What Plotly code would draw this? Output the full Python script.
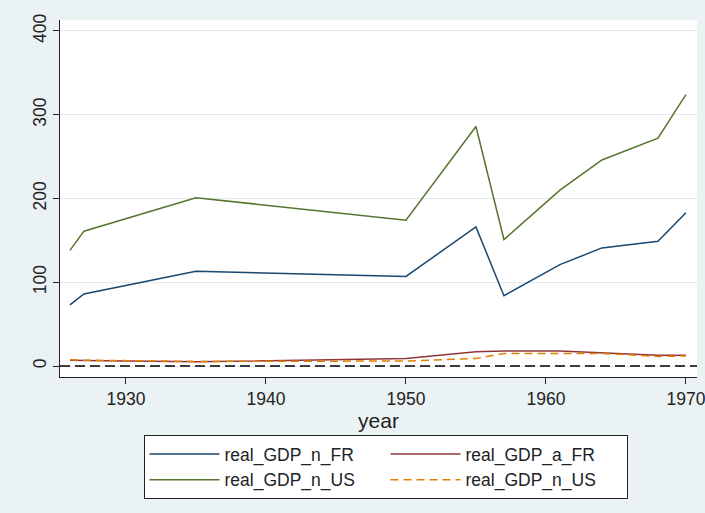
import plotly.graph_objects as go

years = [1926, 1927, 1935, 1950, 1955, 1957, 1961, 1964, 1968, 1970]
real_GDP_n_FR = [73, 86, 113, 107, 166, 84, 121, 141, 149, 183]
real_GDP_a_FR = [7, 6.5, 5, 9, 17, 18, 18, 16, 13, 13]
real_GDP_n_US = [138, 161, 201, 174, 286, 151, 210, 246, 272, 324]
real_GDP_n_US_b = [7.5, 7, 5.5, 6, 9, 15, 15, 15, 11.5, 12]

x_ticks = [1930, 1940, 1950, 1960, 1970]
y_ticks = [0, 100, 200, 300, 400]

NAVY = "#1a476f"
MAROON = "#90353b"
GREEN = "#55752f"
ORANGE = "#e37e00"
BG = "#eaf2f3"
FONT = "Liberation Sans, Arial, sans-serif"

fig = go.Figure()
fig.add_trace(go.Scatter(x=years, y=real_GDP_n_FR, mode="lines", name="real_GDP_n_FR",
                         line=dict(color=NAVY, width=1.5)))
fig.add_trace(go.Scatter(x=years, y=real_GDP_a_FR, mode="lines", name="real_GDP_a_FR",
                         line=dict(color=MAROON, width=1.5)))
fig.add_trace(go.Scatter(x=years, y=real_GDP_n_US, mode="lines", name="real_GDP_n_US",
                         line=dict(color=GREEN, width=1.5)))
fig.add_trace(go.Scatter(x=years, y=real_GDP_n_US_b, mode="lines", name="real_GDP_n_US",
                         line=dict(color=ORANGE, width=1.5, dash="8px,5px")))

fig.add_hline(y=0, line=dict(color="black", width=1.5, dash="10px,5px"), layer="above")

fig.update_layout(
    width=705, height=513,
    margin=dict(l=60, r=8, t=20, b=136, autoexpand=False),
    paper_bgcolor=BG, plot_bgcolor="white",
    font=dict(family=FONT, size=17.5, color="#222"),
    showlegend=True,
    legend=dict(orientation="h", x=0.511, xanchor="center", y=-0.1625, yanchor="top",
                bgcolor="white", bordercolor="#222", borderwidth=1,
                font=dict(family=FONT, size=17.5, color="#222"),
                entrywidth=156, itemwidth=70, traceorder="normal"),
    xaxis=dict(range=[1925.29, 1970.79], tickvals=x_ticks, showgrid=False, zeroline=False,
               showline=True, linecolor="#222", linewidth=1, ticks="outside", ticklen=6,
               tickcolor="#222", title=dict(text="year", standoff=0), mirror=False,
               automargin=False, ticklabeloverflow="allow"),
    yaxis=dict(range=[-13.1, 413.1], tickvals=y_ticks, tickangle=-90, showgrid=True,
               gridcolor="#e3ebee", gridwidth=1, zeroline=False, showline=True,
               linecolor="#222", linewidth=1, ticks="outside", ticklen=6, tickcolor="#222",
               automargin=False),
)

fig.write_html("out.html")
